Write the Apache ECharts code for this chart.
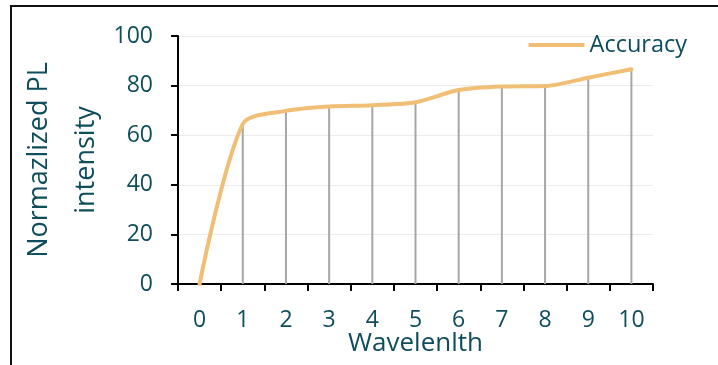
<!DOCTYPE html>
<html><head><meta charset="utf-8">
<script src="https://cdn.jsdelivr.net/npm/echarts@6/dist/echarts.min.js"></script>
<style>
html,body{margin:0;padding:0;background:#fff;overflow:hidden}
#frame{position:absolute;left:10px;top:5px;width:720px;height:380px;border-left:2px solid #111;border-top:2px solid #111}
#c{position:absolute;left:0;top:0;width:718px;height:365px}
</style></head><body>
<div id="frame"></div>
<div id="c"></div>
<script>
const categories = ['0','1','2','3','4','5','6','7','8','9','10'];
const accuracy = [0, 64.5, 69.8, 71.6, 72.1, 73.3, 78.2, 79.6, 79.8, 83.2, 86.6];
const yTicks = {min: 0, max: 100, interval: 20};
const seriesName = 'Accuracy';
const xTitle = 'Wavelenlth';
const yTitle = 'Normazlized PL\nintensity';

const txt = '#0e4d5c';
const font = 'Open Sans';
const chart = echarts.init(document.getElementById('c'), null, {renderer:'canvas'});
chart.setOption({
  animation:false,
  grid:{left:178, top:36, right:65, bottom:81, containLabel:false, outerBoundsMode:'none'},
  legend:{show:true, right:26, top:28, itemWidth:56, itemHeight:4, itemGap:4,
    textStyle:{color:txt, fontFamily:font, fontSize:23.5},
    data:[{name:seriesName, icon:'rect'}]},
  xAxis:{type:'category', data:categories, boundaryGap:true,
    name:xTitle, nameLocation:'middle', nameGap:47, nameMoveOverlap:false,
    nameTextStyle:{color:txt, fontFamily:font, fontSize:26},
    axisLine:{lineStyle:{color:'#000', width:2}},
    axisTick:{show:true, alignWithLabel:false, length:7, lineStyle:{color:'#000', width:2}},
    axisLabel:{color:txt, fontFamily:font, fontSize:23, margin:25},
    splitLine:{show:false}},
  yAxis:{type:'value', min:yTicks.min, max:yTicks.max, interval:yTicks.interval,
    name:yTitle, nameLocation:'middle', nameGap:68, nameRotate:90, nameMoveOverlap:false,
    nameTextStyle:{color:txt, fontFamily:font, fontSize:27, lineHeight:47, align:'center'},
    axisLine:{show:true, lineStyle:{color:'#000', width:2}},
    axisTick:{show:true, length:7, lineStyle:{color:'#000', width:2}},
    axisLabel:{color:txt, fontFamily:font, fontSize:23, margin:25},
    splitLine:{show:true, lineStyle:{color:'#ececec', width:1}}},
  series:[
    {type:'bar', name:'drop', data:accuracy, barWidth:2, itemStyle:{color:'#a6a6a6'}, z:1, silent:true},
    {type:'line', name:seriesName, data:accuracy, smooth:0.28, symbol:'none',
     lineStyle:{color:'#f0bf75', width:4, cap:'round'}, itemStyle:{color:'#f0bf75'}, z:5}
  ]
});
</script></body></html>
